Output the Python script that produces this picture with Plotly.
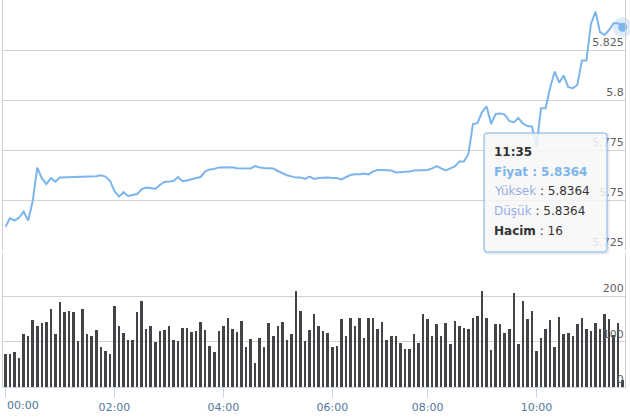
import plotly.graph_objects as go

W, H = 630, 420
ML, MR, MT, MB = 3, 5, 0, 33

# ---- data ----
missing_times = ["06:50", "07:20", "07:45"]
times = []
for m in range(0, 11 * 60 + 36, 5):
    t = f"{m // 60:02d}:{m % 60:02d}"
    if t not in missing_times:
        times.append(t)

prices = [
    5.7367, 5.7409, 5.7397, 5.7412, 5.7442, 5.7397, 5.7495, 5.7662, 5.7609, 5.7579,
    5.7609, 5.7592, 5.7612, 5.7613, 5.7614, 5.7614, 5.7615, 5.7618, 5.7620, 5.7620,
    5.7619, 5.7624, 5.7617, 5.7597, 5.7545, 5.7517, 5.7539, 5.7520, 5.7525, 5.7530,
    5.7553, 5.7562, 5.7560, 5.7555, 5.7575, 5.7590, 5.7592, 5.7595, 5.7615, 5.7594,
    5.7598, 5.7605, 5.7610, 5.7615, 5.7643, 5.7653, 5.7655, 5.7663, 5.7664, 5.7664,
    5.7664, 5.7659, 5.7658, 5.7658, 5.7658, 5.7670, 5.7663, 5.7660, 5.7659, 5.7657,
    5.7645, 5.7633, 5.7624, 5.7618, 5.7612, 5.7612, 5.7605, 5.7617, 5.7605, 5.7610,
    5.7613, 5.7613, 5.7610, 5.7610, 5.7603, 5.7613, 5.7625, 5.7629, 5.7629, 5.7633,
    5.7628, 5.7643, 5.7650, 5.7650, 5.7649, 5.7648, 5.7638, 5.7639, 5.7639, 5.7643,
    5.7647, 5.7649, 5.7650, 5.7650, 5.7658, 5.7669, 5.7658, 5.7648, 5.7658, 5.7668,
    5.7693, 5.7693, 5.7730, 5.7880, 5.7884, 5.7940, 5.7968, 5.7880, 5.7930, 5.7933,
    5.7927, 5.7895, 5.7888, 5.7910, 5.7883, 5.7870, 5.7867, 5.7767, 5.7959, 5.7959,
    5.8060, 5.8142, 5.8087, 5.8122, 5.8064, 5.8059, 5.8075, 5.8197, 5.8197, 5.8380,
    5.8442, 5.8339, 5.8325, 5.8350, 5.8384, 5.8384, 5.8364,
]

volumes = [
    72, 72, 78, 63, 116, 113, 147, 133, 140, 142,
    171, 116, 186, 164, 167, 164, 101, 171, 116, 113,
    125, 89, 79, 72, 179, 133, 118, 103, 103, 164,
    188, 128, 133, 99, 123, 125, 133, 103, 101, 130,
    130, 120, 123, 142, 125, 91, 78, 123, 133, 152,
    128, 120, 145, 87, 106, 52, 108, 89, 140, 111,
    133, 142, 103, 116, 210, 166, 101, 125, 160, 135,
    123, 118, 89, 91, 150, 113, 152, 133, 152, 108,
    152, 152, 128, 142, 103, 113, 111, 96, 84, 84,
    116, 96, 160, 150, 113, 138, 113, 140, 94, 145,
    135, 130, 128, 151, 155, 210, 151, 81, 138, 138,
    118, 128, 207, 94, 188, 150, 166, 79, 108, 128,
    147, 89, 153, 116, 118, 111, 138, 151, 128, 123,
    140, 128, 160, 150, 114, 140, 16,
]

last_high = 5.8364
last_low = 5.8364

x_tick_labels = ["00:00", "02:00", "04:00", "06:00", "08:00", "10:00"]
price_ticks = [5.725, 5.75, 5.775, 5.8, 5.825]
price_tick_text = ["5.725", "5.75", "5.775", "5.8", "5.825"]
vol_ticks = [0, 100, 200]
vol_tick_text = ["0", "100", "200"]

LINE = "#7cb5ec"
GRID = "#d2d2d2"
FONT = "DejaVu Sans"

# ---- helpers (pixel -> paper) ----
PW = W - ML - MR
PH = H - MT - MB


def px_x(px):
    return (px - ML) / PW


def px_y(py):
    return (H - MB - py) / PH


def rounded_rect(x0, y0, x1, y1, r):
    rx, ry = r / PW, r / PH
    a0, a1 = px_x(x0), px_x(x1)
    b0, b1 = px_y(y1), px_y(y0)  # bottom, top in paper
    return (f"M {a0+rx},{b1} L {a1-rx},{b1} Q {a1},{b1} {a1},{b1-ry} "
            f"L {a1},{b0+ry} Q {a1},{b0} {a1-rx},{b0} L {a0+rx},{b0} "
            f"Q {a0},{b0} {a0},{b0+ry} L {a0},{b1-ry} Q {a0},{b1} {a0+rx},{b1} Z")


fig = go.Figure()

fig.add_trace(go.Bar(
    x=times, y=volumes, yaxis="y2",
    marker=dict(color="#434348", line=dict(width=0)),
    width=0.55, hoverinfo="skip",
))
fig.add_trace(go.Scatter(
    x=times, y=prices, mode="lines",
    line=dict(color=LINE, width=2), hoverinfo="skip",
))
fig.add_trace(go.Scatter(
    x=[times[-1]], y=[prices[-1]], mode="markers",
    marker=dict(size=20, color="rgba(124,181,236,0.25)"),
    cliponaxis=False, hoverinfo="skip",
))
fig.add_trace(go.Scatter(
    x=[times[-1]], y=[prices[-1]], mode="markers",
    marker=dict(size=9, color=LINE),
    cliponaxis=False, hoverinfo="skip",
))

axis_common = dict(
    side="right", ticklabelposition="inside top", ticks="",
    showgrid=True, gridcolor=GRID, gridwidth=1,
    showline=True, mirror=True, linecolor="#cccccc", linewidth=1,
    zeroline=False, tickfont=dict(size=11, color="#606060", family=FONT),
    tickmode="array", fixedrange=True,
)

# tooltip
tip_x0, tip_y0, tip_x1, tip_y1 = 484, 133, 607, 252
shapes = [
    dict(type="path", xref="paper", yref="paper",
         path=rounded_rect(tip_x0 + 1, tip_y0 + 1, tip_x1 + 1, tip_y1 + 1, 3),
         line=dict(color="rgba(0,0,0,0.08)", width=3), fillcolor="rgba(0,0,0,0)",
         layer="above"),
    dict(type="path", xref="paper", yref="paper",
         path=rounded_rect(tip_x0, tip_y0, tip_x1, tip_y1, 3),
         line=dict(color=LINE, width=1), fillcolor="rgba(247,247,247,0.85)",
         layer="above"),
]

tip_lines = [
    f"<b>{times[-1]}</b>",
    f"<span style='color:{LINE}'><b>Fiyat : {prices[-1]:.4f}</b></span>",
    f"<span style='color:#97aee6'>Yüksek</span> : {last_high:.4f}",
    f"<span style='color:#97aee6'>Düşük</span> : {last_low:.4f}",
    f"<b>Hacim</b> : {volumes[-1]}",
]
tip_ys = [151.7, 171.7, 191.5, 211.2, 230.8]
annotations = []
for txt, yy in zip(tip_lines, tip_ys):
    annotations.append(dict(
        xref="paper", yref="paper", x=px_x(492), y=px_y(yy),
        xanchor="left", yanchor="middle", showarrow=False, text=txt,
        font=dict(family=FONT, size=12, color="#333333"),
    ))
annotations.append(dict(
    xref="paper", yref="paper", x=px_x(5), y=px_y(405),
    xanchor="left", yanchor="middle", showarrow=False, text=x_tick_labels[0],
    font=dict(family=FONT, size=11, color="#53779c"),
))

fig.update_layout(
    width=W, height=H,
    margin=dict(l=ML, r=MR, t=MT, b=MB, pad=0),
    paper_bgcolor="white", plot_bgcolor="white",
    font=dict(family=FONT),
    showlegend=False, hovermode=False, bargap=0,
    xaxis=dict(
        type="category", categoryorder="array", categoryarray=times,
        range=[-0.55, 136.5], anchor="y2",
        tickmode="array", tickvals=x_tick_labels,
        ticktext=[""] + x_tick_labels[1:],
        ticks="outside", ticklen=10, tickcolor="#ccd6eb", tickwidth=1,
        showline=True, linecolor="#ccd6eb", linewidth=1,
        showgrid=False, zeroline=False,
        tickfont=dict(size=11, color="#53779c", family=FONT),
        fixedrange=True,
    ),
    yaxis=dict(domain=[px_y(250), 1], range=[5.725, 5.85],
               tickvals=price_ticks, ticktext=price_tick_text, **axis_common),
    yaxis2=dict(domain=[0, px_y(253)], range=[0, 294.5],
                tickvals=vol_ticks, ticktext=vol_tick_text, **axis_common),
    shapes=shapes,
    annotations=annotations,
)

fig.write_html(
    "out.html",
    config={"displayModeBar": False, "staticPlot": True},
    post_script="document.body.style.margin='0';document.body.style.overflow='hidden';",
)
